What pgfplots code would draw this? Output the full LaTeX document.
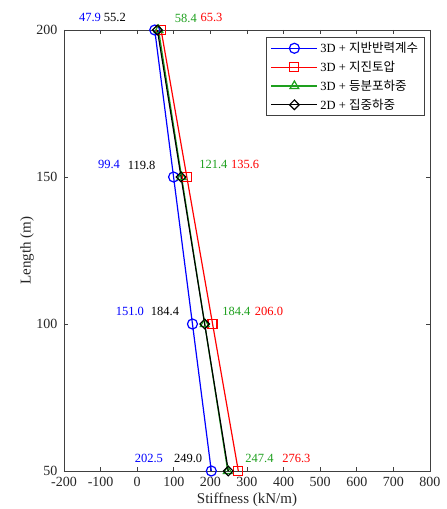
\documentclass[border=0pt]{standalone}
\usepackage{pgfplots}
\pgfplotsset{compat=1.18}
\usepackage{fontspec}
\setmainfont{Liberation Serif}
\newfontfamily\cjk{Noto Sans CJK KR}
\definecolor{mgreen}{RGB}{30,160,30}
\begin{document}
\begin{tikzpicture}
\begin{axis}[
  scale only axis, width=366pt, height=441pt,
  xmin=-200, xmax=800, ymin=50, ymax=200,
  xtick={-200,-100,...,800}, ytick={50,100,150,200},
  tick align=inside, major tick length=4pt,
  axis line style={black!75, line width=0.6pt},
  tick style={black!75, line width=0.6pt},
  /pgf/number format/assume math mode=true,
  ticklabel style={font=\fontsize{14}{16}\selectfont, text=black!85},
  yticklabel style={xshift=-3pt},
  xticklabel style={yshift=-2.5pt},
  xlabel={Stiffness (kN/m)}, ylabel={Length (m)},
  label style={font=\fontsize{15}{18}\selectfont, text=black!85},
  xlabel style={at={(axis description cs:0.5,-0.066)}, anchor=center},
  ylabel style={at={(axis description cs:-0.101,0.5)}, anchor=center},
  clip=false,
  legend cell align=left,
  legend style={at={(0.986,0.984)}, anchor=north east, draw=black!75, line width=0.6pt,
    font=\fontsize{12.5}{14}\selectfont, inner xsep=4pt, inner ysep=2.5pt, row sep=2pt,
    nodes={inner sep=2.5pt}},
  legend image code/.code={\draw[mark repeat=2,mark phase=2,#1] plot coordinates {(0pt,0pt) (23pt,0pt) (46pt,0pt)};},
]
\addplot[blue, line width=1.2pt, mark=o, mark size=5pt, mark options={fill=white, solid}]
  coordinates {(47.9,200) (99.4,150) (151.0,100) (202.5,50)};
\addlegendentry{3D + {\cjk 지반반력계수}}
\addplot[red, line width=1.2pt, mark=square, mark size=4.5pt, mark options={fill=white, solid}]
  coordinates {(65.3,200) (135.6,150) (206.0,100) (276.3,50)};
\addlegendentry{3D + {\cjk 지진토압}}
\addplot[mgreen, line width=1.2pt, mark=triangle, mark size=5pt, mark options={fill=white, solid}]
  coordinates {(58.4,200) (121.4,150) (184.4,100) (247.4,50)};
\addlegendentry{3D + {\cjk 등분포하중}}
\addplot[black, line width=1.2pt, mark=square, mark size=3.4pt, mark options={fill=white, solid, rotate=45}]
  coordinates {(55.2,200) (119.8,150) (184.4,100) (249.0,50)};
\addlegendentry{2D + {\cjk 집중하중}}
% value labels
\begin{scope}[every node/.style={font=\fontsize{12.5}{15}\selectfont, inner sep=0pt, anchor=center}]
\node[text=blue] at (axis cs:-129,204.1) {47.9};
\node[text=black] at (axis cs:-61,204.1) {55.2};
\node[text=mgreen] at (axis cs:133,204.1) {58.4};
\node[text=red] at (axis cs:203,204.1) {65.3};
\node[text=blue] at (axis cs:-77,154.1) {99.4};
\node[text=black] at (axis cs:12,154.1) {119.8};
\node[text=mgreen] at (axis cs:208,154.1) {121.4};
\node[text=red] at (axis cs:295,154.1) {135.6};
\node[text=blue] at (axis cs:-20,104.4) {151.0};
\node[text=black] at (axis cs:76,104.4) {184.4};
\node[text=mgreen] at (axis cs:271,104.4) {184.4};
\node[text=red] at (axis cs:360,104.4) {206.0};
\node[text=blue] at (axis cs:32,54.4) {202.5};
\node[text=black] at (axis cs:139,54.4) {249.0};
\node[text=mgreen] at (axis cs:334,54.4) {247.4};
\node[text=red] at (axis cs:435,54.4) {276.3};
\end{scope}
\end{axis}
\pgfresetboundingbox
\path[use as bounding box] ([shift={(-64pt,-38pt)}]current axis.south west) rectangle ([shift={(17pt,30pt)}]current axis.north east);
\end{tikzpicture}
\end{document}
